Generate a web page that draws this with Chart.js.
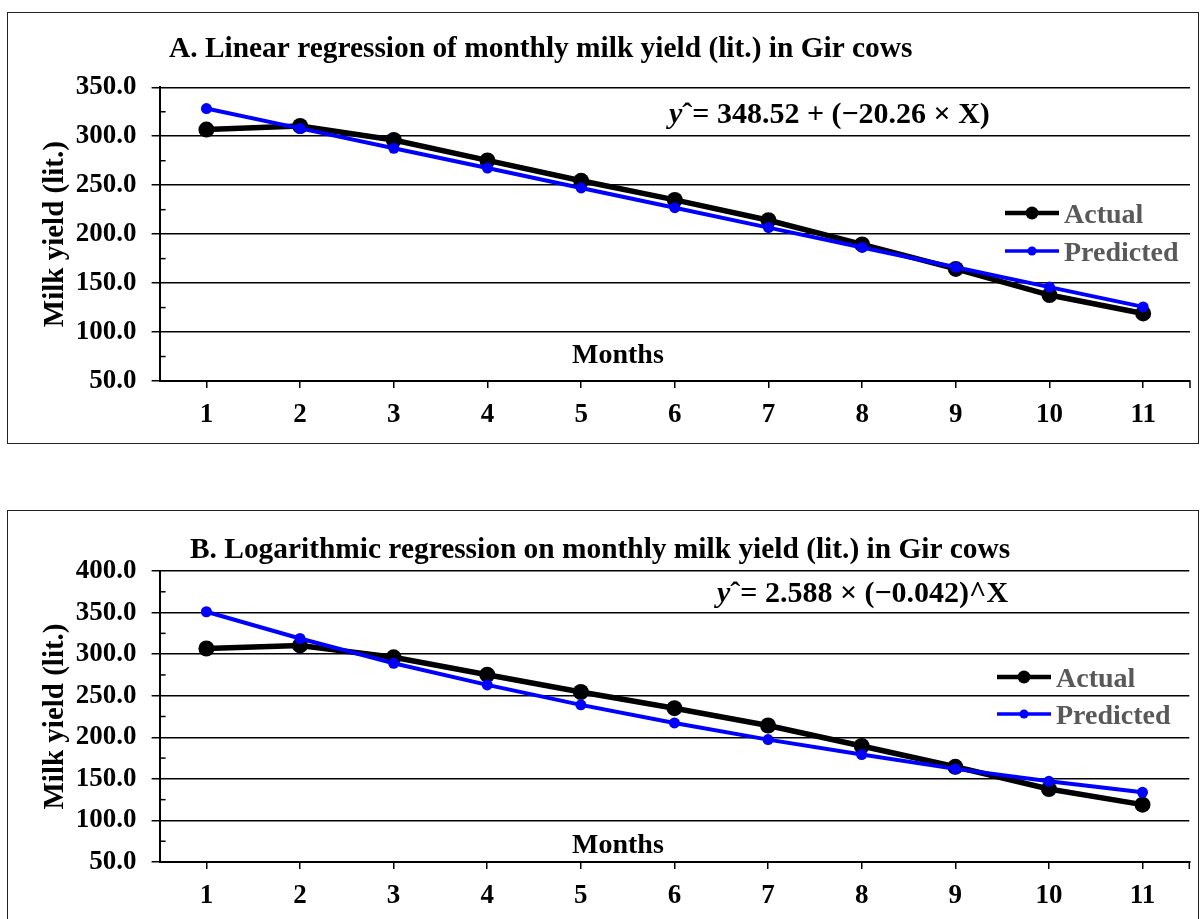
<!DOCTYPE html>
<html>
<head>
<meta charset="utf-8">
<title>Monthly milk yield in Gir cows</title>
<script src="https://cdn.jsdelivr.net/npm/chart.js@4.4.0/dist/chart.umd.min.js"></script>
<style>
  body { margin: 0; background: #fff; }
  .box { position: absolute; border: 1px solid #222; }
  #boxA { left: 7px; top: 12px; width: 1190px; height: 430px; }
  #boxB { left: 7px; top: 510px; width: 1190px; height: 413px; }
  canvas { display: block; }
</style>
</head>
<body>
<div class="box" id="boxA"><canvas id="chartA" width="1190" height="430"></canvas></div>
<div class="box" id="boxB"><canvas id="chartB" width="1190" height="413"></canvas></div>
<script>
// values
const months = ['1', '2', '3', '4', '5', '6', '7', '8', '9', '10', '11'];
const actual = [306.8, 310.5, 296.2, 275.3, 254.5, 235.0, 214.2, 189.5, 164.5, 137.8, 119.0];
const predictedLinear = [328.3, 308.0, 287.7, 267.5, 247.2, 227.0, 206.7, 186.4, 166.2, 145.9, 125.7];
const predictedLog = [351.0, 318.8, 289.0, 263.0, 239.0, 217.2, 197.2, 179.2, 162.0, 147.0, 133.8];

const seriesNames = ['Actual', 'Predicted'];
const xTitle = 'Months';
const yTitle = 'Milk yield (lit.)';
const titleA = 'A. Linear regression of monthly milk yield (lit.) in Gir cows';
const titleB = 'B. Logarithmic regression on monthly milk yield (lit.) in Gir cows';
const equationA = 'ˆ= 348.52 + (−20.26 × X)';
const equationB = 'ˆ= 2.588 × (−0.042)^X';
const yTicksA = { min: 50, max: 350, step: 50 };
const yTicksB = { min: 50, max: 400, step: 50 };

const FONT = '"Liberation Serif", "Times New Roman", serif';

// titles, equation, axis caption, legend and minor ticks
const panelText = {
  id: 'panelText',
  afterDraw(chart, args, o) {
    const { ctx, chartArea, scales } = chart;
    ctx.save();

    // minor ticks on the y axis and the closing tick on the x axis
    ctx.strokeStyle = '#000';
    ctx.lineWidth = 1.5;
    const y = scales.y;
    for (let v = y.min + y.options.ticks.stepSize / 2; v < y.max; v += y.options.ticks.stepSize) {
      const py = y.getPixelForValue(v);
      ctx.beginPath();
      ctx.moveTo(chartArea.left, py);
      ctx.lineTo(chartArea.left + 6, py);
      ctx.stroke();
    }
    ctx.beginPath();
    ctx.moveTo(chartArea.right, chartArea.bottom);
    ctx.lineTo(chartArea.right, chartArea.bottom + 7);
    ctx.stroke();

    ctx.fillStyle = '#000';
    ctx.textBaseline = 'alphabetic';
    ctx.textAlign = 'left';
    ctx.font = 'bold 29.4px ' + FONT;
    ctx.fillText(o.title, o.titleX, o.titleY);

    ctx.font = 'italic bold 30px ' + FONT;
    ctx.fillText('y', o.eqX, o.eqY);
    const w = ctx.measureText('y').width;
    ctx.font = 'bold 30px ' + FONT;
    ctx.fillText(o.equation, o.eqX + w, o.eqY);

    ctx.font = 'bold 28px ' + FONT;
    ctx.fillText(xTitle, o.monthsX, o.monthsY);

    // legend inside the plot
    ctx.font = 'bold 28px ' + FONT;
    chart.data.datasets.forEach((ds, i) => {
      const ly = o.legendY + i * o.legendGap;
      ctx.strokeStyle = ds.borderColor;
      ctx.lineWidth = o.legendLine[i];
      ctx.beginPath();
      ctx.moveTo(o.legendX, ly);
      ctx.lineTo(o.legendX + 54, ly);
      ctx.stroke();
      ctx.fillStyle = ds.borderColor;
      ctx.beginPath();
      ctx.arc(o.legendX + 27, ly, o.legendDot[i], 0, Math.PI * 2);
      ctx.fill();
      ctx.fillStyle = '#595959';
      ctx.fillText(ds.label, o.legendX + 59, ly + 9.5);
    });
    ctx.restore();
  }
};

function makeChart(id, predicted, yTicks, area, text) {
  return new Chart(document.getElementById(id), {
    type: 'line',
    data: {
      labels: months,
      datasets: [{
        label: seriesNames[0],
        data: actual,
        borderColor: '#000000',
        backgroundColor: '#000000',
        borderWidth: 5.5,
        pointRadius: 8,
        pointBorderWidth: 0,
        tension: 0,
        order: 1
      }, {
        label: seriesNames[1],
        data: predicted,
        borderColor: '#0000FF',
        backgroundColor: '#0000FF',
        borderWidth: 4,
        pointRadius: 5.5,
        pointBorderWidth: 0,
        tension: 0,
        order: 0
      }]
    },
    options: {
      responsive: false,
      animation: false,
      layout: { padding: { top: area.top, right: area.right, left: 0, bottom: 0 } },
      plugins: {
        legend: { display: false },
        tooltip: { enabled: false },
        panelText: text
      },
      scales: {
        x: {
          offset: true,
          grid: { display: true, drawOnChartArea: false, offset: false, color: '#000', lineWidth: 1.5, tickLength: 7 },
          border: { color: '#000', width: 2 },
          ticks: { color: '#000', padding: 11, font: { family: FONT, size: 27, weight: 'bold' } },
          afterFit: s => { s.height = 62; }
        },
        y: {
          min: yTicks.min,
          max: yTicks.max,
          ticks: {
            stepSize: yTicks.step,
            color: '#000',
            padding: 15,
            font: { family: FONT, size: 27, weight: 'bold' },
            callback: v => Number(v).toFixed(1)
          },
          grid: { color: '#000', lineWidth: 1.5, tickLength: 8 },
          border: { color: '#000', width: 2 },
          title: {
            display: true,
            text: yTitle,
            color: '#000',
            padding: { top: 30, bottom: 0 },
            font: { family: FONT, size: 29, weight: 'bold' }
          },
          afterFit: s => { s.width = 151.6; }
        }
      }
    },
    plugins: [panelText]
  });
}

makeChart('chartA', predictedLinear, yTicksA, { top: 74.3, right: 6 }, {
  title: titleA, titleX: 161, titleY: 44,
  equation: equationA, eqX: 661, eqY: 110,
  monthsX: 564, monthsY: 350,
  legendX: 997, legendY: 200, legendGap: 38,
  legendLine: [4.5, 3.5], legendDot: [6.5, 4.5]
});

makeChart('chartB', predictedLog, yTicksB, { top: 60, right: 8.7 }, {
  title: titleB, titleX: 182, titleY: 47,
  equation: equationB, eqX: 709, eqY: 91,
  monthsX: 564, monthsY: 342,
  legendX: 989, legendY: 166, legendGap: 37,
  legendLine: [4.5, 3.5], legendDot: [6.5, 4.5]
});
</script>
</body>
</html>
